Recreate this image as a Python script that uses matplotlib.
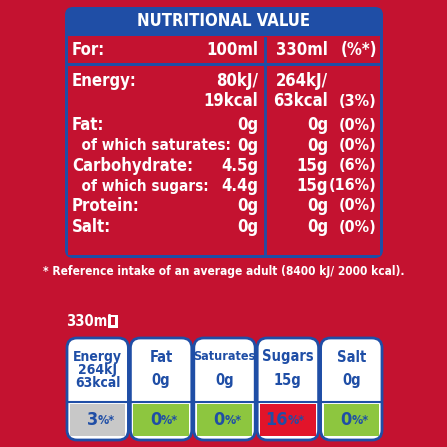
import matplotlib.pyplot as plt
from matplotlib.patches import FancyBboxPatch, Rectangle

red = '#c41230'
blue = '#1f4ea6'
font = ['DejaVu Sans']

row_labels = ['Energy:', '', 'Fat:', '  of which saturates:', 'Carbohydrate:',
              '  of which sugars:', 'Protein:', 'Salt:']
per_100 = ['80kJ/', '19kcal', '0g', '0g', '4.5g', '4.4g', '0g', '0g']
per_330 = ['264kJ/', '63kcal', '0g', '0g', '15g', '15g', '0g', '0g']
pct_ri = ['', '(3%)', '(0%)', '(0%)', '(6%)', '(16%)', '(0%)', '(0%)']
row_y = [81, 101, 125, 146, 166, 186, 206, 227]

gda_names = ['Energy', 'Fat', 'Saturates', 'Sugars', 'Salt']
gda_values = ['264kJ\n63kcal', '0g', '0g', '15g', '0g']
gda_pct = ['3', '0', '0', '16', '0']
gda_colors = ['#c8c8c8', '#8dc63f', '#8dc63f', '#e2142a', '#8dc63f']

fig = plt.figure(figsize=(4.47, 4.47), dpi=100)
fig.patch.set_facecolor(red)
ax = fig.add_axes([0, 0, 1, 1])
ax.set_xlim(0, 447)
ax.set_ylim(447, 0)
ax.axis('off')

def txt(x, y, s, size=12, ha='left', color='white', **kw):
    ax.text(x, y, s, fontsize=size, ha=ha, va='center', color=color,
            family=font, weight='bold', stretch='condensed', **kw)

# top table
ax.add_patch(FancyBboxPatch((65, 7), 318, 251, boxstyle='round,pad=0,rounding_size=8',
                            fc=blue, ec='none'))
ax.add_patch(Rectangle((68, 36), 312, 27, fc=red, ec='none'))
ax.add_patch(Rectangle((68, 66), 312, 189, fc=red, ec='none'))
ax.plot([265, 265], [38, 255], color=blue, lw=2)
txt(224, 21, 'NUTRITIONAL VALUE', size=12, ha='center')
txt(72, 50, 'For:')
txt(258, 50, '100ml', ha='right')
txt(328, 50, '330ml', ha='right')
txt(377, 50, '(%*)', ha='right')
for lab, a, b, c, y in zip(row_labels, per_100, per_330, pct_ri, row_y):
    txt(72, y, lab, size=11 if lab.startswith(' ') else 12)
    txt(258, y, a, ha='right')
    txt(328, y, b, ha='right')
    txt(377, y, c, ha='right', size=11.5)
txt(224, 272, '* Reference intake of an average adult (8400 kJ/ 2000 kcal).', size=8.6, ha='center')

# front-of-pack boxes
txt(66, 322, '330ml', size=10.5)
ax.add_patch(Rectangle((108, 315), 10, 13, fc='white', ec='none'))
ax.add_patch(Rectangle((111, 317), 4, 8, fc=red, ec='none'))
w = 63.4
for i, (n, v, p, c) in enumerate(zip(gda_names, gda_values, gda_pct, gda_colors)):
    x0 = 66 + i * w
    ax.add_patch(FancyBboxPatch((x0 + 1, 338), w - 2, 102,
                                boxstyle='round,pad=0,rounding_size=10',
                                fc='white', ec=blue, lw=2))
    ax.add_patch(Rectangle((x0 + 4, 404), w - 8, 32, fc=c, ec='none'))
    ax.plot([x0 + 2, x0 + w - 2], [402, 402], color=blue, lw=1.5)
    nsize = 9 if n == 'Saturates' else 10.5
    if i == 0:
        txt(x0 + w / 2, 370, n + '\n' + v, size=10, ha='center', color=blue, linespacing=0.95)
    else:
        txt(x0 + w / 2, 357, n, size=nsize, ha='center', color=blue)
        txt(x0 + w / 2, 381, v, size=10.5, ha='center', color=blue)
    txt(x0 + w / 2, 420, p, size=13, ha='right', color=blue)
    txt(x0 + w / 2, 420, '%*', size=9, ha='left', color=blue)

fig.savefig('out.png', dpi=100, facecolor=red)
